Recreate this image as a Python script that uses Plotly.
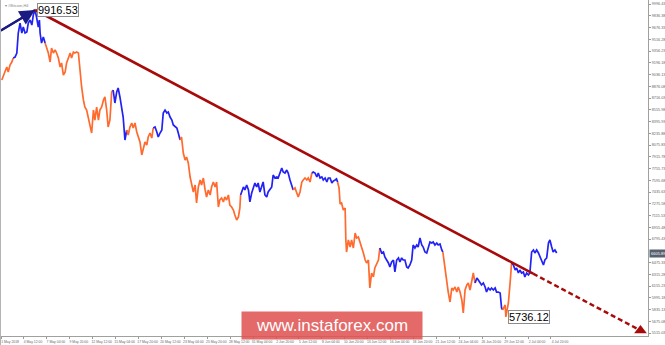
import pandas as pd
import plotly.graph_objects as go

BASE = pd.Timestamp("2018-05-01 00:00")

# ---- price series (hours since 1 May 2018 00:00, price) ----
hours = [
    22, 31, 36, 40, 45, 50, 54,
    59, 64, 68, 73, 78, 82, 87, 92, 96, 101, 106, 110, 115, 119, 124, 127, 129, 133, 138, 143,
    147, 152, 157, 161, 166, 171, 175, 180, 185, 189, 194, 199, 203, 208, 213, 217, 222, 226, 231, 236,
    240, 245, 250, 254, 259, 264, 268, 273, 278, 282, 287, 292, 296, 301, 306, 310, 315, 319, 324, 329, 333,
    338, 343, 347, 352, 357, 361, 366, 371,
    375, 380, 385, 389, 394, 399, 403, 408, 413, 417, 422, 427, 431, 436, 441, 445,
    450, 455, 459, 464, 469, 473, 478, 483, 487, 492, 497, 501, 506, 511, 515, 520,
    524, 529, 534, 538, 543, 548, 552, 557, 562, 566, 571, 576, 580, 585, 590, 594, 599, 604, 608, 613,
    618, 622, 627, 631, 636, 641, 645, 650, 655, 659, 664, 669, 673, 678, 683, 687, 689,
    692, 697, 701, 706, 711, 715, 720, 725, 729, 734, 738, 743, 748, 752, 757, 762, 766, 771, 776, 780,
    785, 790, 794, 799, 804, 808, 813, 818, 822, 827, 832, 836,
    841, 846, 850, 855, 860, 864, 869, 874, 878, 883, 888,
    892, 897, 902, 906, 911, 916, 920, 925, 930, 934, 939, 944, 948, 953, 957, 960,
    964, 967, 971, 976, 981, 983, 985, 990, 995, 999, 1004, 1009, 1013, 1018, 1023, 1027, 1032, 1037,
    1041, 1046, 1050, 1055, 1060, 1064, 1069, 1074, 1078,
    1083, 1088, 1092, 1097, 1102, 1106, 1111, 1116, 1120, 1125, 1130, 1134, 1139, 1143, 1148, 1153,
    1157, 1162, 1167, 1171, 1176, 1181, 1185, 1190, 1195, 1199, 1204, 1209, 1213, 1218, 1223, 1227,
    1232, 1237, 1241, 1246, 1251, 1254,
    1257, 1260, 1265, 1269, 1274, 1279, 1283, 1288, 1293, 1297, 1302, 1307, 1311, 1316, 1321, 1325,
    1330, 1335, 1339, 1344,
    1349, 1353, 1358, 1362, 1367, 1372, 1376, 1381, 1386, 1390, 1395, 1400, 1404, 1409, 1414, 1418, 1421,
    1428, 1430, 1434, 1437, 1442, 1444, 1446,
    1451, 1456, 1460, 1465, 1469, 1474, 1479, 1483, 1488, 1493, 1497, 1502, 1507, 1511, 1516, 1521,
    1525, 1530, 1535, 1539, 1544, 1549, 1553, 1558, 1562, 1567, 1572,
]
prices = [
    8963, 9072, 9140, 9072, 9167, 9208, 9263,
    9276, 9331, 9603, 9739, 9603, 9685, 9603, 9617, 9739, 9780, 9712, 9848, 9916.53, 9821, 9685, 9780, 9603, 9467, 9549, 9467,
    9413, 9331, 9208, 9399, 9331, 9372, 9331, 9263, 9140, 9195, 9031, 9072, 9195, 9276, 9331, 9263, 9344, 9331, 9344, 9331,
    9099, 8868, 8691, 8595, 8554, 8446, 8377, 8241, 8554, 8418, 8595, 8418, 8554, 8595, 8691, 8732, 8554, 8323, 8418, 8800, 8827,
    8650, 8800, 8854, 8732, 8554, 8459, 8146, 8282,
    8214, 8323, 8377, 8309, 8377, 8255, 8187, 8119, 7942, 8037, 8119, 8078, 8187, 8241, 8173, 8309,
    8323, 8255, 8187, 8241, 8282, 8514, 8554, 8514, 8527, 8459, 8418, 8350, 8323, 8309, 8241, 8146,
    8187, 7969, 7873, 7914, 7833, 7642, 7560, 7438, 7533, 7288, 7506, 7601, 7533, 7628, 7465, 7370, 7465, 7397, 7506, 7574,
    7506, 7574, 7233, 7329, 7356, 7301, 7370, 7329, 7397, 7260, 7233, 7192, 7124, 7056, 7097, 7220, 7397,
    7438, 7506, 7465, 7533, 7465, 7302, 7424, 7506, 7560, 7506, 7560, 7438, 7533, 7574, 7397, 7370, 7438, 7465, 7506, 7669,
    7628, 7642, 7628, 7696, 7765, 7710, 7696, 7737, 7696, 7601, 7506, 7465,
    7492, 7424, 7370, 7438, 7574, 7601, 7628, 7601, 7628, 7574, 7696,
    7710, 7696, 7642, 7696, 7628, 7642, 7601, 7628, 7574, 7628, 7628, 7560, 7587, 7601, 7615, 7574,
    7492, 7274, 7288, 7192, 7220, 6784, 6620, 6784, 6688, 6784, 6675, 6879, 6811, 6825, 6757, 6688, 6607, 6511,
    6471, 6511, 6130, 6334, 6280, 6402, 6471, 6511, 6675,
    6607, 6620, 6552, 6511, 6471, 6416, 6484, 6511, 6348, 6511, 6539, 6484, 6539, 6511, 6511, 6416,
    6402, 6443, 6511, 6716, 6675, 6716, 6688, 6811, 6716, 6688, 6620, 6607, 6675, 6757, 6743, 6757,
    6716, 6743, 6716, 6729, 6648, 6620,
    6511, 6348, 6198, 6075, 5939, 6130, 6103, 6144, 6075, 6144, 6075, 5967, 5790, 6103, 6171, 6198,
    6103, 6212, 6334, 6198,
    6266, 6239, 6198, 6171, 6198, 6144, 6075, 6130, 6103, 6130, 6103, 6130, 6075, 6075, 6062, 5858, 5831,
    5899, 5736.12, 5871, 5926, 6212, 6416, 6471,
    6443, 6375, 6402, 6334, 6375, 6334, 6348, 6280, 6334, 6307, 6334, 6620, 6648, 6607, 6648, 6607,
    6552, 6484, 6443, 6511, 6539, 6743, 6784, 6688, 6620, 6648, 6605.89,
]
# hours at which a new colour wave starts (colours alternate orange / blue)
turn_hours = [59, 147, 338, 375, 450, 524, 692, 841, 892, 964, 1083, 1257, 1349, 1428, 1451]

# ---- wave lines ----
impulse_hours = [17, 115]
impulse_prices = [9631, 9916.53]
trend_hours = [115, 1506, 1806]
trend_prices = [9916.53, 6325, 5551]

# ---- axes ----
view_hours = [17, 1827]
view_prices = [5476, 10053]
x_tick_dates = [
    "2018-05-01 20:00", "2018-05-04 12:00", "2018-05-07 04:00", "2018-05-09 20:00", "2018-05-12 12:00",
    "2018-05-15 04:00", "2018-05-17 20:00", "2018-05-20 12:00", "2018-05-23 04:00", "2018-05-25 20:00",
    "2018-05-28 12:00", "2018-05-31 04:00", "2018-06-02 20:00", "2018-06-05 12:00", "2018-06-08 04:00",
    "2018-06-10 20:00", "2018-06-13 12:00", "2018-06-16 04:00", "2018-06-18 20:00", "2018-06-21 12:00",
    "2018-06-24 04:00", "2018-06-26 20:00", "2018-06-29 12:00", "2018-07-02 04:00", "2018-07-04 20:00",
]
x_tick_labels = [
    "1 May 2018", "4 May 12:00", "7 May 04:00", "9 May 20:00", "12 May 12:00",
    "15 May 04:00", "17 May 20:00", "20 May 12:00", "23 May 04:00", "25 May 20:00",
    "28 May 12:00", "31 May 04:00", "2 Jun 20:00", "5 Jun 12:00", "8 Jun 04:00",
    "10 Jun 20:00", "13 Jun 12:00", "16 Jun 04:00", "18 Jun 20:00", "21 Jun 12:00",
    "24 Jun 04:00", "26 Jun 20:00", "29 Jun 12:00", "2 Jul 04:00", "4 Jul 20:00",
]
# the grid label at 6635.38 is hidden under the current-price box in the reference
y_tick_values = [
    9996.43, 9836.38, 9676.33, 9516.28, 9356.23, 9196.18, 9036.13, 8876.08, 8716.03, 8555.98,
    8395.93, 8235.88, 8075.83, 7915.78, 7755.73, 7595.68, 7435.63, 7275.58, 7115.53, 6955.48,
    6795.43, 6475.33, 6315.28, 6155.23, 5995.18, 5835.13, 5675.08, 5515.03,
]
symbol_text = "▾ #Bitcoin,H4"
watermark = "www.instaforex.com"

ORANGE = "#ff6a2e"
BLUE = "#2222f5"
NAVY = "#1b1b86"
DARKRED = "#a80a0a"
FONT = "Liberation Sans"


def to_time(h):
    return BASE + pd.to_timedelta(h, unit="h")


times = [to_time(h) for h in hours]

fig = go.Figure()

seg_index = [sum(1 for t in turn_hours if t <= h) for h in hours]
for k in range(len(turn_hours) + 1):
    idx = [i for i, s in enumerate(seg_index) if s == k]
    if not idx:
        continue
    if k > 0:
        idx = [idx[0] - 1] + idx
    fig.add_trace(go.Scatter(
        x=[times[i] for i in idx], y=[prices[i] for i in idx],
        mode="lines", line=dict(color=ORANGE if k % 2 == 0 else BLUE, width=1.7),
        hoverinfo="skip", showlegend=False))

# impulse (blue) line
fig.add_trace(go.Scatter(
    x=[to_time(h) for h in impulse_hours], y=impulse_prices, mode="lines",
    line=dict(color=NAVY, width=2.2), hoverinfo="skip", showlegend=False))
fig.add_annotation(
    x=to_time(impulse_hours[1]), y=impulse_prices[1],
    ax=to_time(impulse_hours[0]), ay=impulse_prices[0], axref="x", ayref="y",
    showarrow=True, arrowhead=2, arrowsize=1.4, arrowwidth=2.2, arrowcolor=NAVY, text="")

# trend (red) line: solid then dashed projection
fig.add_trace(go.Scatter(
    x=[to_time(h) for h in trend_hours[:2]], y=trend_prices[:2], mode="lines",
    line=dict(color=DARKRED, width=2.6), hoverinfo="skip", showlegend=False))
fig.add_trace(go.Scatter(
    x=[to_time(h) for h in trend_hours[1:]], y=trend_prices[1:], mode="lines",
    line=dict(color=DARKRED, width=2.4, dash="5px,3px"), hoverinfo="skip", showlegend=False))
fig.add_trace(go.Scatter(
    x=[to_time(trend_hours[-1])], y=[trend_prices[-1]], mode="markers",
    marker=dict(symbol="triangle-up", size=11, color=DARKRED), hoverinfo="skip", showlegend=False))

# top-left symbol text
fig.add_annotation(
    xref="paper", yref="paper", x=0, y=1, xanchor="left", yanchor="top", xshift=3, yshift=-1,
    text=symbol_text, showarrow=False, font=dict(size=4, color="#888888", family=FONT))

# extreme labels
hi = max(prices)
lo = min(prices)
for val in (hi, lo):
    h = hours[prices.index(val)]
    fig.add_annotation(
        x=to_time(h), y=val, text=f"{val:.2f}", showarrow=False,
        xanchor="left", yanchor="middle", xshift=2, height=12,
        font=dict(size=11, color="black", family=FONT),
        bgcolor="white", bordercolor="#8c8c8c", borderwidth=1, borderpad=0)

# current price label on the right axis
last = prices[-1]
fig.add_annotation(
    xref="paper", x=1, y=last, xanchor="left", yanchor="middle", xshift=1,
    text=f"{last:.2f}", showarrow=False, bgcolor="#56606e", borderpad=1,
    font=dict(size=4, color="white", family=FONT))

# watermark
fig.add_annotation(
    xref="paper", yref="paper", x=0.5123, y=0.031, xanchor="center", yanchor="middle",
    text=watermark, showarrow=False, width=178, height=25,
    bgcolor="rgba(224,80,80,0.86)", font=dict(size=17, color="white", family=FONT))

# left window border
fig.add_shape(type="line", xref="paper", yref="paper", x0=0, x1=0, y0=-0.03, y1=1,
              line=dict(color="#b4b4b4", width=2))

fig.update_layout(
    width=665, height=345, margin=dict(l=0, r=17, t=0, b=9),
    paper_bgcolor="white", plot_bgcolor="white", showlegend=False)

fig.update_xaxes(
    type="date", range=[to_time(view_hours[0]), to_time(view_hours[1])],
    tickvals=x_tick_dates, ticktext=x_tick_labels, tickangle=0,
    tickfont=dict(size=3.4, color="#666666", family=FONT),
    ticks="outside", ticklen=2, tickcolor="#999999", ticklabelshift=9,
    showgrid=False, zeroline=False, showline=True, linecolor="#a0a0a0", linewidth=1)

fig.update_yaxes(
    side="right", range=view_prices,
    tickvals=y_tick_values, ticktext=[f"{v:.2f}" for v in y_tick_values],
    tickfont=dict(size=3.8, color="#666666", family=FONT),
    ticks="outside", ticklen=2, tickcolor="#999999",
    showgrid=False, zeroline=False, showline=True, linecolor="#a0a0a0", linewidth=1)

fig.write_html("out.html")
